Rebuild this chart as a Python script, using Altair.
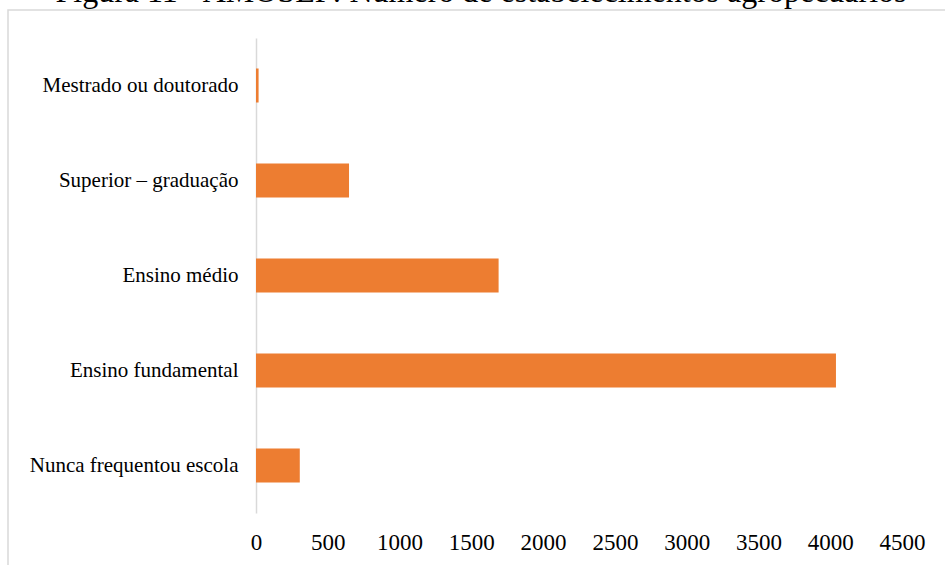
import altair as alt
import pandas as pd

categorias = ["Mestrado ou doutorado", "Superior – graduação", "Ensino médio",
              "Ensino fundamental", "Nunca frequentou escola"]
valores = [18, 648, 1690, 4040, 305]
ticks_x = [0, 500, 1000, 1500, 2000, 2500, 3000, 3500, 4000, 4500]
titulo = "Figura 11 - AMOSEP: Número de estabelecimentos agropecuários"

df = pd.DataFrame({"categoria": categorias, "valor": valores})

FONT = "Liberation Serif"

frame = alt.Chart(pd.DataFrame({"k": [0]})).mark_rect(
    fill="white", fillOpacity=0, stroke="#d9d9d9", strokeWidth=1.5
).encode(
    x=alt.value(-248), x2=alt.value(720), y=alt.value(-28), y2=alt.value(580)
)

bars = alt.Chart(df).mark_bar(color="#ED7D31").encode(
    x=alt.X("valor:Q", scale=alt.Scale(domain=[0, 4500], nice=False),
            axis=alt.Axis(values=ticks_x, title=None, grid=False, domain=False,
                          ticks=False, labelPadding=18, labelFontSize=23, format="d",
                          labelFont=FONT, labelColor="#000000", labelFlush=False)),
    y=alt.Y("categoria:N", sort=categorias,
            scale=alt.Scale(paddingInner=0.642, paddingOuter=0.321),
            axis=alt.Axis(title=None, ticks=False, labelPadding=18, labelFontSize=21,
                          labelFont=FONT, labelColor="#000000", domainColor="#d9d9d9",
                          domainWidth=1.5, labelLimit=400))
)

chart = alt.layer(frame, bars).properties(
    width=646, height=475,
    background="white",
    title=alt.TitleParams(titulo, font=FONT, fontSize=32, fontWeight="normal",
                          color="#000000", anchor="middle", dx=-98, dy=29,
                          baseline="alphabetic", offset=4),
    autosize=alt.AutoSizeParams(type="none"),
    padding={"left": 256, "top": 38, "right": 43, "bottom": 52},
).configure_view(strokeWidth=0, stroke="transparent")

chart.save("out.html", embed_options={"renderer": "svg", "actions": False})
